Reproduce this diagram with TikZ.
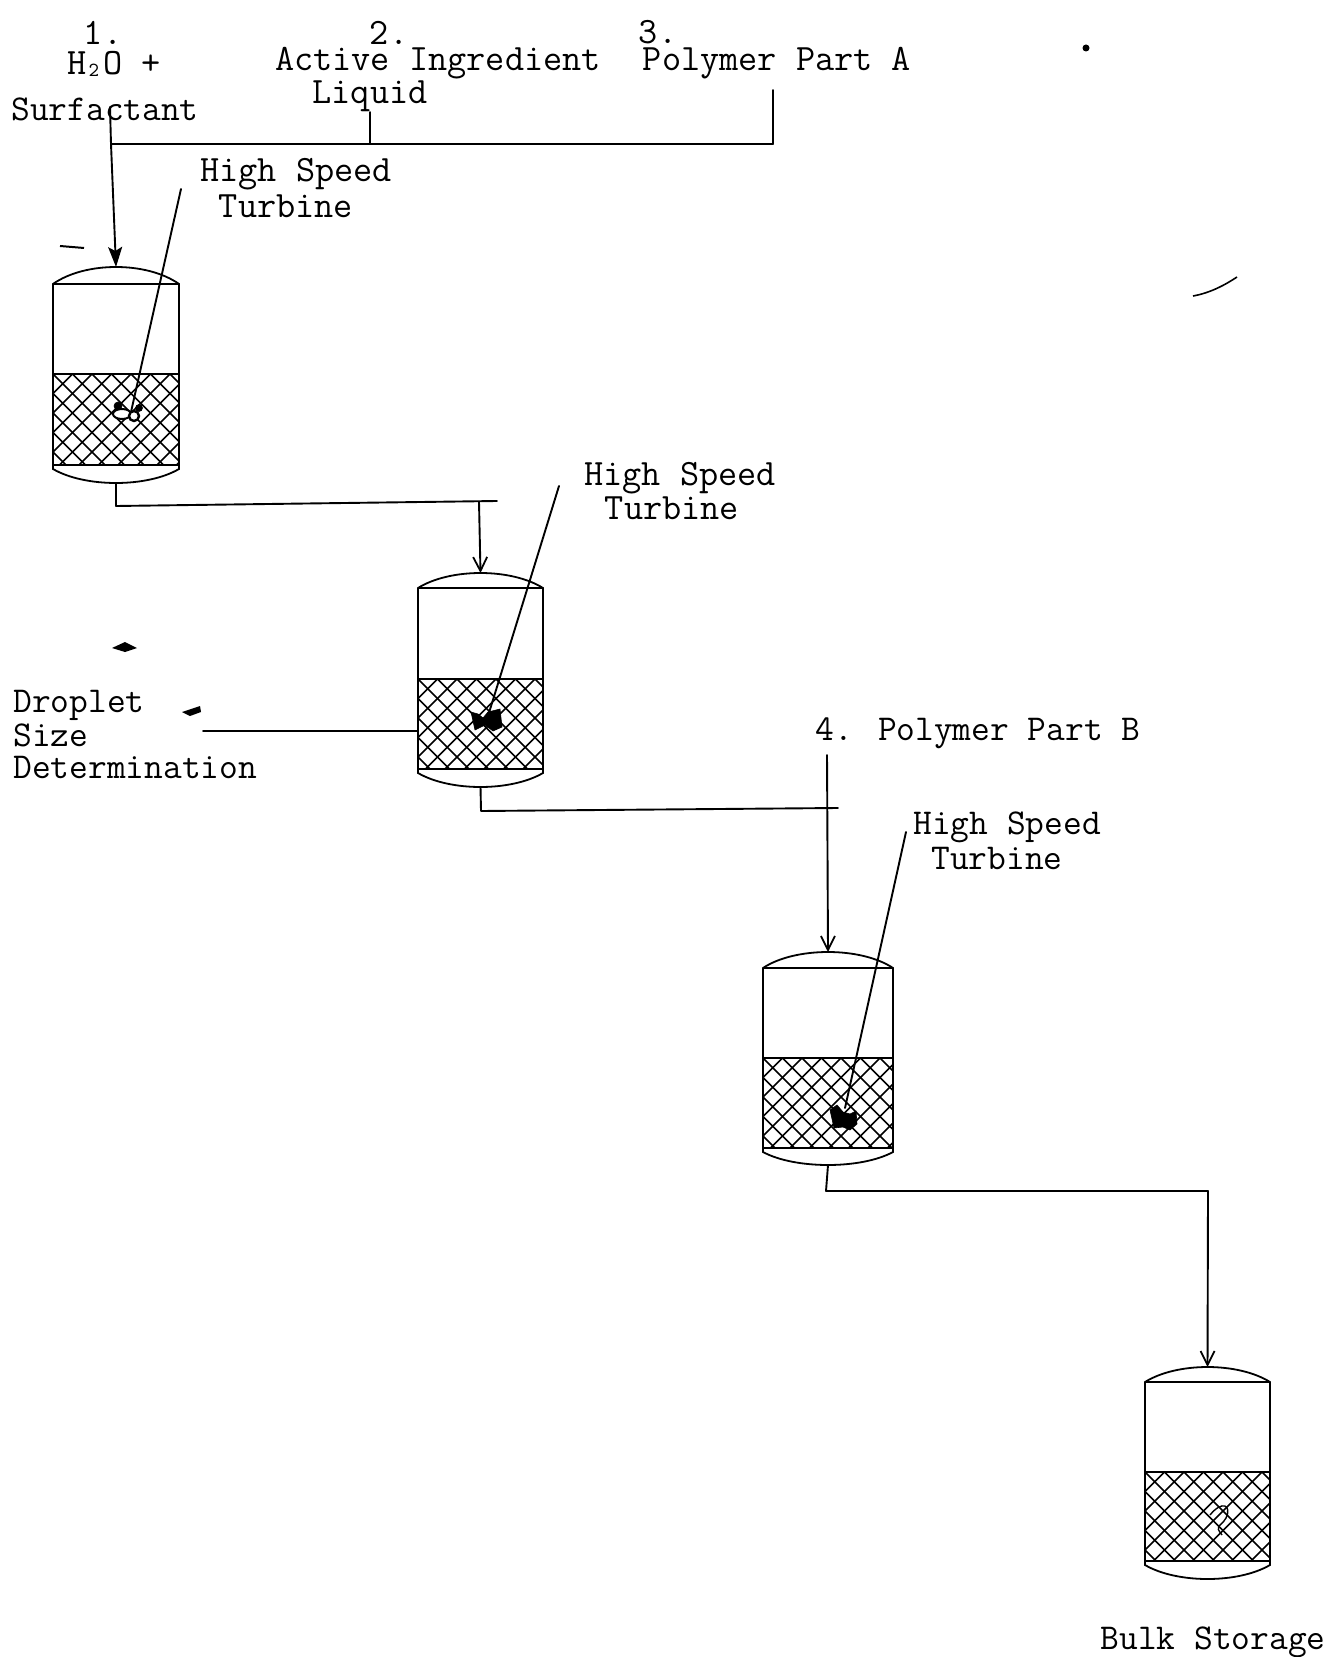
\documentclass[tikz,border=0pt]{standalone}
\usepackage{fontspec}
\usetikzlibrary{arrows.meta}
\newcommand{\tanksym}[8]{%
 % name, left, right, top apex, shoulder, level, bottom line, bottom apex
 \begin{scope}
  \clip (#2,#6) rectangle (#3,#7);
  \foreach \k in {-30,...,30}{
   \draw[hatchline] ({#2+\k*19.5},#6) -- ++(120,120);
   \draw[hatchline] ({#2+\k*19.5},#6) -- ++(-120,120);
  }
 \end{scope}
 \coordinate (#1-top) at ({(#2+#3)/2},#4);
 \coordinate (#1-bot) at ({(#2+#3)/2},#8);
 \coordinate (#1-left) at (#2,{(#6+#7)/2});
 \draw[vessel] (#2,#7+4) -- (#2,#5)
   .. controls ({#2+32},{#5-(#5-#4)*4/3}) and ({#3-32},{#5-(#5-#4)*4/3}) .. (#3,#5) -- (#3,#7+4)
   .. controls ({#3-32},{#7+4+(#8-#7-4)*4/3}) and ({#2+32},{#7+4+(#8-#7-4)*4/3}) .. cycle;
 \draw[vessel] (#2,#5) -- (#3,#5);
 \draw[vessel] (#2,#6) -- (#3,#6);
 \draw[vessel] (#2,#7) -- (#3,#7);
}
\tikzset{
 x=0.5pt,y=-0.5pt,
 vessel/.style={line width=0.9pt,black},
 hatchline/.style={line width=0.8pt,black},
 pipe/.style={line width=0.95pt,black,line cap=round,line join=round},
 feed/.style={pipe,-{Straight Barb[length=7pt,width=7pt,line width=0.9pt]}},
 feedheavy/.style={pipe,-{Stealth[length=10pt,width=7pt,inset=2pt]}},
 lbl/.style={inner sep=0pt,font=\fontsize{18.6}{18.6}\selectfont\ttfamily,text=black},
 lblsm/.style={inner sep=0pt,font=\fontsize{18.2}{18.2}\selectfont\ttfamily,text=black},
 blob/.style={fill=black,draw=black,line width=0.3pt},
}
\begin{document}
\begin{tikzpicture}
\useasboundingbox[fill=white] (0,0) rectangle (1330,1657);

% Vessels
\tanksym{ta}{53}{179}{267}{284}{374}{465}{483}
\tanksym{tb}{418}{543}{573}{588}{679}{769}{787}
\tanksym{tc}{763}{893}{952}{968}{1058}{1148}{1165}
\tanksym{td}{1145}{1270}{1367}{1382}{1472}{1561}{1579}

% Labels
\node[lbl] (n1) at (103,33) {1.};
\node[lbl] (h2o) at (114,64) {H\kern1pt\raisebox{-1pt}{\fontsize{10}{10}\selectfont 2}\kern2pt O +};
\node[lblsm] (surf) at (105,109) {Surfactant};
\node[lbl] (n2) at (389,33) {2.};
\node[lbl] (act) at (438,63) {Active Ingredient};
\node[lbl] (liq) at (370,96) {Liquid};
\node[lbl] (n3) at (658,32) {3.};
\node[lbl] (pa) at (777,63) {Polymer Part A};
\node[lbl] (hs1) at (296,174) {High Speed};
\node[lbl] (tu1) at (286,206) {Turbine};
\node[lbl] (hs2) at (680,478) {High Speed};
\node[lbl] (tu2) at (672,508) {Turbine};
\node[lblsm,anchor=west] (dr1) at (13,705) {Droplet};
\node[lblsm,anchor=west] (dr2) at (13,735) {Size};
\node[lblsm,anchor=west] (dr3) at (13,767) {Determination};
\node[lblsm] (pb) at (978,733) {4. Polymer Part B};
\node[lblsm] (hs3) at (1007,827) {High Speed};
\node[lblsm] (tu3) at (997,858) {Turbine};
\node[lblsm] (bulk) at (1213,1642) {Bulk Storage};

% Named junctions
\coordinate (s1) at (110,107);
\coordinate (j1) at (111,144);
\coordinate (j2) at (370,144);
\coordinate (j3) at (773,144);
\coordinate (e2) at (370,112);
\coordinate (e3) at (773,90);
\coordinate (a1) at (116,506);
\coordinate (a2) at (479,502);
\coordinate (a3) at (497,501);
\coordinate (b1) at (481,811);
\coordinate (b2) at (838,808);
\coordinate (p1) at (827,755);
\coordinate (c1) at (826,1191);
\coordinate (c2) at (1208,1191);
\coordinate (t1a) at (181,189);
\coordinate (t1b) at (131,412);
\coordinate (t2a) at (559,486);
\coordinate (t2b) at (488,716);
\coordinate (t3a) at (906,832);
\coordinate (t3b) at (845,1108);
\coordinate (d1) at (203,731);
\coordinate (d2) at (418,731);

% Connectors
\draw[pipe] (j3) -- (e3);
\draw[pipe] (j1) -- (j3);
\draw[pipe] (j2) -- (e2);
\draw[feedheavy] (s1) -- (j1) -- (ta-top);
\draw[pipe] (ta-bot) -- (a1) -- (a3);
\draw[feed] (a2) -- (tb-top);
\draw[pipe] (tb-bot) -- (b1) -- (b2);
\draw[feed] (p1) -- (tc-top);
\draw[pipe] (tc-bot) -- (c1) -- (c2);
\draw[feed] (c2) -- (td-top);
\draw[pipe] (d1) -- (d2);
\draw[pipe] (t1a) -- (t1b);
\draw[pipe] (t2a) -- (t2b);
\draw[pipe] (t3a) -- (t3b);

% Impellers
\draw[line width=1pt,fill=white] (122,414) ellipse (9 and 5);
\draw[line width=1.2pt,fill=white] (134,416) circle (5);
\fill[blob] (118,406) circle (4);
\fill[blob] (139,408) circle (3.5);
\fill[blob] (471,712) -- (478,714) -- (483,718) -- (488,712) -- (500,709) -- (502,727) -- (493,731) -- (485,725) -- (475,730) -- cycle;
\fill[blob] (830,1110) -- (837,1105) -- (843,1112) -- (850,1114) -- (856,1111) -- (857,1124) -- (850,1130) -- (843,1127) -- (834,1128) -- cycle;
\draw[line width=0.7pt] (1210,1515) .. controls (1222,1500) and (1232,1505) .. (1226,1518) .. controls (1220,1528) and (1214,1525) .. (1222,1535);

% Marks on the page
\fill (1086,48) circle (3.5);
\fill (112,648) -- (125,642) -- (137,648) -- (125,652) -- cycle;
\fill (182,712) -- (200,706) -- (201,712) -- (190,716) -- cycle;
\draw[line width=0.8pt] (1193,296) .. controls (1210,293) and (1225,285) .. (1237,277);
\draw[line width=1pt] (60,246) -- (84,248);
\end{tikzpicture}
\end{document}
